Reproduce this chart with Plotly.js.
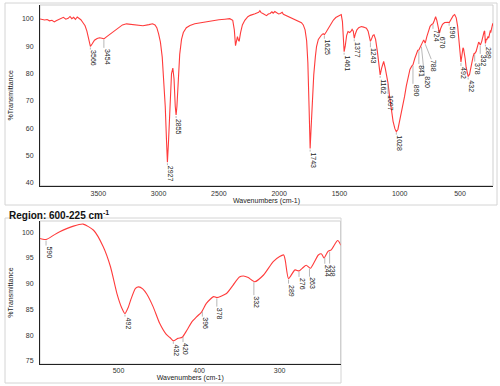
<!DOCTYPE html>
<html><head><meta charset="utf-8">
<script src="https://cdn.plot.ly/plotly-3.0.1.min.js"></script>
<style>html,body{margin:0;padding:0;background:#fff}#chart{width:500px;height:386px}</style>
</head><body><div id="chart"></div>
<script>
// ---------- data ----------
const wavenumber = [3984,3965,3945,3925,3905,3885,3865,3850,3830,3810,3790,3770,3750,3735,3720,3705,3690,3675,3660,3645,3630,3610,3595,3580,3566,3552,3532,3510,3490,3470,3454,3430,3400,3370,3340,3300,3266,3230,3180,3130,3080,3050,3030,3015,3000,2985,2970,2955,2945,2935,2927,2918,2905,2893,2882,2872,2862,2855,2848,2838,2825,2810,2795,2770,2740,2700,2650,2600,2550,2500,2450,2410,2385,2372,2362,2355,2346,2338,2332,2320,2305,2285,2260,2240,2220,2200,2185,2170,2160,2150,2135,2120,2105,2090,2075,2060,2050,2036,2020,2005,1990,1975,1965,1950,1930,1900,1870,1840,1815,1800,1785,1772,1762,1752,1743,1735,1725,1713,1700,1690,1675,1660,1649,1635,1625,1610,1590,1570,1550,1530,1510,1495,1485,1475,1468,1461,1452,1440,1429,1415,1405,1395,1385,1377,1368,1355,1340,1318,1300,1276,1262,1250,1243,1235,1222,1213,1200,1185,1170,1162,1150,1140,1133,1120,1105,1097,1085,1070,1055,1040,1028,1015,1000,985,973,960,945,931,915,900,890,875,862,850,841,832,820,810,801,792,788,775,760,748,735,724,712,702,692,680,670,660,645,627,610,598,590,580,573,556,544,531,519,510,502,496,492,488,485,479,475,470,465,457,449,441,436,432,426,421,415,409,403,397,391,382,378,366,358,350,345,339,331,320,308,300,295,293,289,281,276,272,267,262,252,248,245,240,236,228,224];
const transmittance = [100.0,99.8,99.6,99.8,99.3,99.5,98.9,99.3,99.8,100.4,100.6,99.9,100.2,100.9,100.1,100.6,99.8,100.7,100.2,99.7,98.8,97.5,95.5,93.0,89.9,90.8,92.2,92.8,93.1,92.9,92.7,93.5,94.5,95.7,96.8,97.8,98.2,98.0,97.6,97.5,97.9,98.2,97.8,96.8,94.5,91.5,86.0,77.0,68.0,56.0,47.5,55.0,72.0,80.0,82.0,78.0,68.0,64.8,68.0,77.0,87.0,92.5,95.0,96.8,97.6,98.2,98.6,99.0,99.4,99.7,99.9,100.1,99.5,96.0,90.2,91.5,93.5,92.2,91.8,95.0,97.8,99.5,100.8,101.3,101.5,101.9,102.2,102.4,103.0,102.3,102.0,101.6,101.2,101.8,102.0,102.6,102.1,102.7,102.2,101.8,102.0,102.4,101.7,101.4,101.0,100.6,100.0,99.4,98.6,97.8,96.0,92.0,84.0,68.0,52.5,60.0,72.0,79.5,86.0,89.9,92.5,93.6,94.1,94.6,94.2,95.2,96.8,98.3,99.6,100.5,101.1,101.5,101.6,99.0,93.0,88.0,90.0,94.0,95.4,95.0,95.4,96.2,95.5,92.9,94.5,96.0,96.8,97.2,97.0,96.6,95.5,93.0,91.8,92.5,94.0,94.2,92.5,88.0,82.0,79.5,82.0,84.0,84.4,82.0,78.5,76.5,72.0,67.0,62.5,59.8,58.7,59.5,62.5,65.5,68.0,71.5,75.5,78.9,81.5,82.7,83.2,85.5,87.4,88.5,88.6,89.6,90.2,91.5,92.3,91.5,91.1,93.5,96.0,97.3,98.0,98.2,99.5,100.8,99.5,96.5,94.8,96.5,98.0,98.7,98.9,98.8,98.6,99.5,100.1,101.2,101.6,100.4,97.2,93.3,88.1,85.3,84.2,85.4,86.8,89.1,89.4,89.0,88.0,85.5,82.3,80.2,79.5,78.9,79.4,79.6,81.0,82.6,83.6,84.5,86.2,87.5,87.3,88.1,89.7,91.3,91.5,91.2,90.4,91.7,94.3,95.3,95.6,94.5,91.0,92.7,92.5,93.0,93.6,93.0,95.6,95.8,95.0,96.3,96.6,98.4,97.5];

const topPeakLabels = [3566,3454,2927,2855,1743,1625,1461,1377,1243,1162,1097,1028,890,841,820,788,724,670,590,492,432,378,332,289];
const regionPeakLabels = [590,492,432,420,396,378,332,289,276,263,244,238];

const topXTicks = [3500,3000,2500,2000,1500,1000,500];
const topYTicks = [40,50,60,70,80,90,100];
const regionXTicks = [600,500,400,300];
const regionYTicks = [75,80,85,90,95,100];

const regionLimit = 610;

// ---------- styling (leader line lengths in px, horizontal leader offsets) ----------
const topLeaderPx = [2,8,2,2,2,3,2,2,5,2,10,2,18,13,29,15,4,2,2,3,2,7,8,2];
const topLeaderDx = [0,0,0,0,0,0,0,0,0,0,0,0,0,0,3,6,0,0,0,0,0,0,0,0];
const regionLeaderPx = [5,2,2,5,5,8,13,4,5,8,6,12];

const FONT = 'Arial, "Liberation Sans", sans-serif';
const RED = '#ff3b3b';

function interp(w){
  for(let i=0;i<wavenumber.length-1;i++){
    const a=wavenumber[i], b=wavenumber[i+1];
    if((w<=a && w>=b)){
      const t=(a-w)/(a-b);
      return transmittance[i]+(transmittance[i+1]-transmittance[i])*t;
    }
  }
  return transmittance[transmittance.length-1];
}

const regWn=[], regT=[];
wavenumber.forEach((w,i)=>{ if(w<=regionLimit){regWn.push(w);regT.push(transmittance[i]);} });

const traces = [
  {x:wavenumber, y:transmittance, xaxis:'x', yaxis:'y', type:'scatter', mode:'lines',
   line:{color:RED, width:1.1}, hoverinfo:'skip'},
  {x:regWn, y:regT, xaxis:'x2', yaxis:'y2', type:'scatter', mode:'lines',
   line:{color:RED, width:1.1, shape:'spline', smoothing:0.6}, hoverinfo:'skip'}
];

const shapes = [];
const annotations = [];

function addLabels(labels, leaders, dxs, xr, yr){
  labels.forEach((w,i)=>{
    const T = interp(w);
    const L = leaders[i];
    const dx = dxs ? dxs[i] : 0;
    shapes.push({type:'line', xref:xr, yref:yr, xsizemode:'pixel', ysizemode:'pixel',
      xanchor:w, yanchor:T, x0:0, x1:dx, y0:-1, y1:-(1+L),
      line:{color:'#9a9a9a', width:0.7}, layer:'above'});
    annotations.push({x:w, y:T, xref:xr, yref:yr, text:String(w), showarrow:false,
      textangle:90, xanchor:'center', yanchor:'top', xshift:dx+3, yshift:-(1+L),
      font:{family:FONT, size:7, color:'#222'}, borderpad:0});
  });
}
addLabels(topPeakLabels, topLeaderPx, topLeaderDx, 'x', 'y');
addLabels(regionPeakLabels, regionLeaderPx, null, 'x2', 'y2');

// frames
shapes.push({type:'rect', xref:'paper', yref:'paper', x0:0.010, x1:0.994, y0:1-205/386, y1:1-3/386,
  line:{color:'#d4d4d4', width:1}, layer:'below'});
shapes.push({type:'rect', xref:'x domain', yref:'y domain', x0:0, x1:1, y0:0, y1:1,
  line:{color:'#cfcfcf', width:1}, layer:'below'});
shapes.push({type:'rect', xref:'paper', yref:'paper', x0:0.010, x1:0.682, y0:1-383/386, y1:1-218/386,
  line:{color:'#d4d4d4', width:1}, layer:'below'});
shapes.push({type:'rect', xref:'x2 domain', yref:'y2 domain', x0:0, x1:1, y0:0, y1:1,
  line:{color:'#cfcfcf', width:1}, layer:'below'});

annotations.push({xref:'paper', yref:'paper', x:7/500, y:1-215/386, xanchor:'left', yanchor:'middle',
  text:'<b>Region: 600-225 cm<sup>-1</sup></b>', showarrow:false,
  font:{family:FONT, size:10, color:'#111'}});

const axisCommon = {showgrid:false, zeroline:false, showline:true, linecolor:'#222', linewidth:1,
  ticks:'', ticklabelstandoff:1, tickfont:{family:FONT, size:7, color:'#333'}, fixedrange:true};

const layout = {
  width:500, height:386, margin:{l:0,r:0,t:0,b:0},
  paper_bgcolor:'#fff', plot_bgcolor:'#fff', showlegend:false,
  font:{family:FONT, size:7, color:'#222'},
  xaxis:Object.assign({}, axisCommon, {domain:[0.08,0.986], range:[3984,226], tickvals:topXTicks,
    anchor:'y', title:{text:'Wavenumbers (cm-1)', font:{family:FONT,size:7,color:'#222'}, standoff:0}}),
  yaxis:Object.assign({}, axisCommon, {domain:[1-185.7/386, 1-5/386], range:[38.9,105.1], tickvals:topYTicks,
    ticklabelstandoff:4, anchor:'x', title:{text:'%Transmittance', font:{family:FONT,size:7,color:'#222'}, standoff:7}}),
  xaxis2:Object.assign({}, axisCommon, {domain:[0.08,0.681], range:[597.5,224.5], tickvals:regionXTicks,
    ticklabelstandoff:0, anchor:'y2', title:{text:'Wavenumbers (cm-1)', font:{family:FONT,size:7,color:'#222'}, standoff:0}}),
  yaxis2:Object.assign({}, axisCommon, {domain:[1-364/386, 1-221/386], range:[74.4,102.2], tickvals:regionYTicks,
    ticklabelstandoff:4, anchor:'x2', title:{text:'%Transmittance', font:{family:FONT,size:7,color:'#222'}, standoff:7}}),
  shapes:shapes, annotations:annotations
};

Plotly.newPlot('chart', traces, layout, {displayModeBar:false, staticPlot:true});
</script></body></html>
